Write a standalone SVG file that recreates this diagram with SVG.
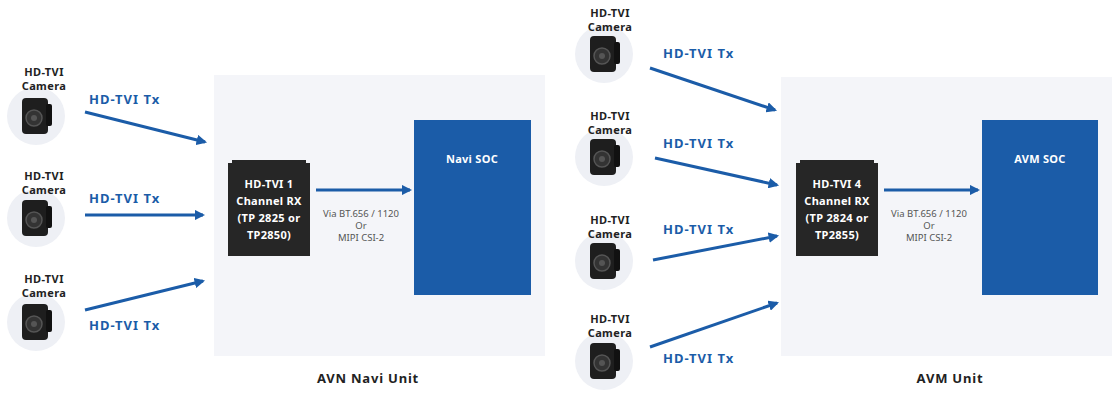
<svg xmlns="http://www.w3.org/2000/svg" width="1120" height="401" viewBox="0 0 1120 401">
<defs>
<style>
text{font-family:"Noto Sans","Open Sans",sans-serif;font-weight:bold}
.cl{font-size:11px;fill:#222;text-anchor:middle;letter-spacing:0.4px}
.tx{font-size:13px;fill:#1b5ca8;letter-spacing:1px}
.ch{font-size:11px;fill:#fff;text-anchor:middle;letter-spacing:0.3px}
.via{font-size:9.5px;fill:#555;font-weight:normal;text-anchor:middle}
.unit{font-size:13px;fill:#222;text-anchor:middle;letter-spacing:0.8px}
.ln{stroke:#1b5ca8;stroke-width:3;fill:none;marker-end:url(#a)}
</style>
<marker id="a" viewBox="0 0 10 10" refX="8" refY="5" markerWidth="3.5" markerHeight="3.5" orient="auto"><path d="M0,0L10,5L0,10z" fill="#1b5ca8"/></marker>
<g id="cam">
<circle cx="0" cy="0" r="29" fill="#eef0f5"/>
<rect x="-14" y="-18" width="26" height="36" rx="4" fill="#1e1e1e"/>
<rect x="10" y="-12" width="6" height="22" rx="2" fill="#111"/>
<circle cx="-2" cy="2" r="8" fill="#333" stroke="#555" stroke-width="1.5"/>
<circle cx="-2" cy="2" r="3" fill="#555"/>
</g>
</defs>
<rect width="1120" height="401" fill="#fff"/>
<g id="left-panel"><rect x="214" y="75" width="331" height="281" fill="#f4f5f9"/><text class="unit" x="368" y="383">AVN Navi Unit</text></g>
<g id="right-panel"><rect x="781" y="77" width="331" height="279" fill="#f4f5f9"/><text class="unit" x="950" y="383">AVM Unit</text></g>
<g id="navi-soc"><rect x="414" y="120" width="117" height="175" fill="#1b5ca8"/><text class="ch" x="472" y="163">Navi SOC</text></g>
<g id="avm-soc"><rect x="982" y="120" width="116" height="175" fill="#1b5ca8"/><text class="ch" x="1040" y="163">AVM SOC</text></g>
<g id="rx1"><path d="M228,256V163H232V160H306V163H310V256Z" fill="#262626"/>
<text class="ch" x="269" y="188">HD-TVI 1</text><text class="ch" x="269" y="205">Channel RX</text><text class="ch" x="269" y="222">(TP 2825 or</text><text class="ch" x="269" y="239">TP2850)</text></g>
<g id="rx4"><path d="M796,256V163H800V160H874V163H878V256Z" fill="#262626"/>
<text class="ch" x="837" y="188">HD-TVI 4</text><text class="ch" x="837" y="205">Channel RX</text><text class="ch" x="837" y="222">(TP 2824 or</text><text class="ch" x="837" y="239">TP2855)</text></g>
<g id="cams-left">
<use href="#cam" x="36" y="116"/><text class="cl" x="44" y="76">HD-TVI</text><text class="cl" x="44" y="90">Camera</text>
<use href="#cam" x="36" y="218"/><text class="cl" x="44" y="180">HD-TVI</text><text class="cl" x="44" y="194">Camera</text>
<use href="#cam" x="36" y="322"/><text class="cl" x="44" y="283">HD-TVI</text><text class="cl" x="44" y="297">Camera</text>
</g>
<g id="cams-right">
<use href="#cam" x="604" y="54"/><text class="cl" x="610" y="17">HD-TVI</text><text class="cl" x="610" y="31">Camera</text>
<use href="#cam" x="604" y="157"/><text class="cl" x="610" y="120">HD-TVI</text><text class="cl" x="610" y="134">Camera</text>
<use href="#cam" x="604" y="261"/><text class="cl" x="610" y="224">HD-TVI</text><text class="cl" x="610" y="238">Camera</text>
<use href="#cam" x="604" y="361"/><text class="cl" x="610" y="323">HD-TVI</text><text class="cl" x="610" y="337">Camera</text>
</g>
<g id="connectors">
<path class="ln" d="M85,112L205,142"/><path class="ln" d="M85,215L203,215"/><path class="ln" d="M85,310L203,281"/>
<path class="ln" d="M316,190L410,190"/>
<path class="ln" d="M650,68L775,110"/><path class="ln" d="M655,158L777,185"/><path class="ln" d="M653,260L777,236"/><path class="ln" d="M650,347L777,303"/>
<path class="ln" d="M884,190L978,190"/>
</g>
<g id="labels">
<text class="tx" x="89" y="104">HD-TVI Tx</text><text class="tx" x="89" y="203">HD-TVI Tx</text><text class="tx" x="89" y="330">HD-TVI Tx</text>
<text class="tx" x="663" y="58">HD-TVI Tx</text><text class="tx" x="663" y="148">HD-TVI Tx</text><text class="tx" x="663" y="234">HD-TVI Tx</text><text class="tx" x="663" y="363">HD-TVI Tx</text>
<text class="via" x="361" y="217">Via BT.656 / 1120</text><text class="via" x="361" y="229">Or</text><text class="via" x="361" y="241">MIPI CSI-2</text>
<text class="via" x="929" y="217">Via BT.656 / 1120</text><text class="via" x="929" y="229">Or</text><text class="via" x="929" y="241">MIPI CSI-2</text>
</g>
</svg>
